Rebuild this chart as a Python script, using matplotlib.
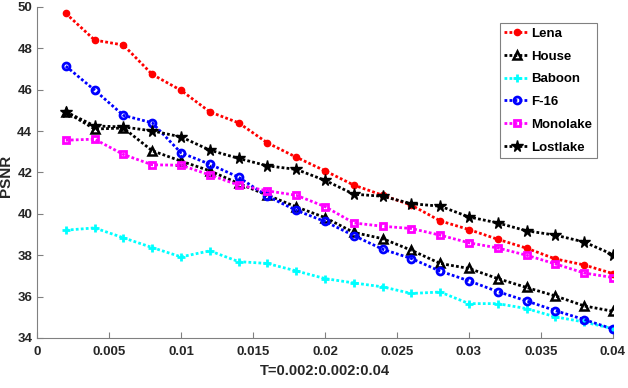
import numpy as np
import matplotlib.pyplot as plt

T = np.arange(1, 21) * 0.002

lena = [49.69, 48.40, 48.16, 46.74, 45.97, 44.93, 44.40, 43.43, 42.74, 42.08,
        41.39, 40.90, 40.42, 39.66, 39.24, 38.77, 38.34, 37.82, 37.53, 37.11]
house = [44.93, 44.10, 44.15, 43.05, 42.55, 42.08, 41.47, 40.90, 40.34, 39.82,
         39.10, 38.80, 38.24, 37.60, 37.36, 36.87, 36.44, 36.03, 35.55, 35.29]
baboon = [39.21, 39.32, 38.84, 38.37, 37.92, 38.21, 37.69, 37.60, 37.24, 36.87,
          36.66, 36.47, 36.15, 36.22, 35.66, 35.66, 35.42, 35.02, 34.77, 34.45]
f16 = [47.14, 45.98, 44.76, 44.40, 42.95, 42.40, 41.77, 40.85, 40.17, 39.63,
       38.95, 38.29, 37.84, 37.23, 36.76, 36.24, 35.79, 35.32, 34.89, 34.43]
monolake = [43.56, 43.61, 42.87, 42.37, 42.35, 41.88, 41.39, 41.11, 40.90, 40.35,
            39.56, 39.40, 39.29, 38.97, 38.60, 38.35, 38.00, 37.58, 37.14, 36.92]
lostlake = [44.93, 44.25, 44.20, 44.01, 43.72, 43.08, 42.68, 42.32, 42.15, 41.62,
            40.95, 40.85, 40.49, 40.37, 39.85, 39.56, 39.18, 38.97, 38.64, 38.03]

names = ["Lena", "House", "Baboon", "F-16", "Monolake", "Lostlake"]
xtick_vals = [0, 0.005, 0.01, 0.015, 0.02, 0.025, 0.03, 0.035, 0.04]
xtick_labels = ['0', '0.005', '0.01', '0.015', '0.02', '0.025', '0.03', '0.035', '0.04']
ytick_vals = [34, 36, 38, 40, 42, 44, 46, 48, 50]

plt.rcParams['font.family'] = ['Liberation Sans', 'DejaVu Sans']
plt.rcParams['font.weight'] = 'bold'

fig = plt.figure(figsize=(6.28, 3.88), dpi=100)
ax = fig.add_axes([0.059, 0.129, 0.917, 0.853])

styles = [
    dict(color='red', marker='o', mfc='red', ms=4.5),
    dict(color='black', marker='^', mfc='none', ms=5.5, mew=1.8),
    dict(color='cyan', marker='+', ms=6, mew=2),
    dict(color='blue', marker='o', mfc='none', ms=5, mew=2),
    dict(color='magenta', marker='s', mfc='none', ms=4.5, mew=2),
    dict(color='black', marker='*', mfc='black', ms=8.5),
]
series = [lena, house, baboon, f16, monolake, lostlake]
for name, vals, st in zip(names, series, styles):
    ax.plot(T, vals, linestyle=(0, (1, 0.8)), lw=2, label=name, **st)

ax.set_xlim(0, 0.04)
ax.set_ylim(34, 50)
ax.set_xticks(xtick_vals, labels=xtick_labels, fontweight='bold', fontsize=9.5, color='#262626')
ax.set_yticks(ytick_vals, labels=[str(v) for v in ytick_vals], fontweight='bold',
              fontsize=9.5, color='#262626')
ax.tick_params(direction='in', length=4, color='#808080')
ax.tick_params(axis='x', pad=6)
for s in ['top', 'right']:
    ax.spines[s].set_visible(False)
for s in ['left', 'bottom']:
    ax.spines[s].set_color('#808080')
ax.set_xlabel('T=0.002:0.002:0.04', fontsize=10.5, fontweight='bold', color='#262626', labelpad=4)
ax.set_ylabel('PSNR', fontsize=11, fontweight='bold', color='#262626')
ax.yaxis.set_label_coords(-0.042, 0.49)

leg = ax.legend(loc='upper right', bbox_to_anchor=(0.972, 0.952), fontsize=9.5,
                handlelength=1.9, handletextpad=0.15, borderpad=0.35, borderaxespad=0,
                labelspacing=0.8, fancybox=False, framealpha=1)
leg.get_frame().set_edgecolor('#808080')
leg.get_frame().set_linewidth(0.8)
for t in leg.get_texts():
    t.set_fontweight('bold')

fig.savefig('out.png', dpi=100)
